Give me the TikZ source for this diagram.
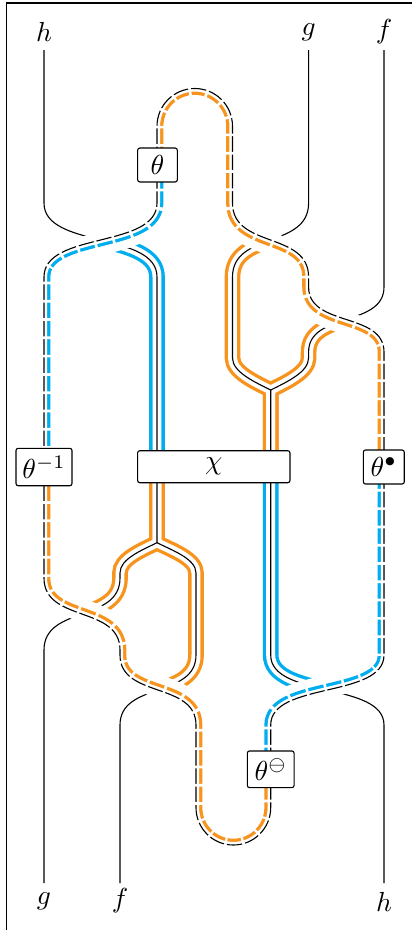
\documentclass[tikz,border=0pt]{standalone}
\definecolor{myorange}{RGB}{247,148,30}
\definecolor{mycyan}{RGB}{0,174,239}
\begin{document}
\def\loopfull{(157,165) -- (157,126.25) .. controls (157,105.4) and (173.9,88.5) .. (194.75,88.5) .. controls (215.6,88.5) and (232.5,105.4) .. (232.5,126.25) -- (232.5,203) .. controls (232.5,248.88) and (308.6,231.12) .. (308.6,277) -- (308.6,287) .. controls (308.6,327.3) and (384,311.7) .. (384,352) -- (384,655) .. controls (384,698.4) and (270.7,681.6) .. (270.7,725) -- (270.7,807.6) .. controls (270.7,828.23) and (253.98,845) .. (233.35,845) .. controls (212.72,845) and (196,828.23) .. (196,807.6) -- (196,725) .. controls (196,681.6) and (120,698.4) .. (120,655) -- (120,650) .. controls (120,605.36) and (44,622.64) .. (44,578) -- (44,277) .. controls (44,231.12) and (157,248.88) .. (157,203) -- cycle}
\def\segA{(157,165) -- (157,126.25) .. controls (157,105.4) and (173.9,88.5) .. (194.75,88.5) .. controls (215.6,88.5) and (232.5,105.4) .. (232.5,126.25) -- (232.5,203) .. controls (232.5,248.88) and (308.6,231.12) .. (308.6,277) -- (308.6,287) .. controls (308.6,327.3) and (384,311.7) .. (384,352) -- (384,467)}
\def\segB{(384,467) -- (384,655) .. controls (384,698.4) and (270.7,681.6) .. (270.7,725) -- (270.7,769.3)}
\def\segC{(270.7,769.3) -- (270.7,807.6) .. controls (270.7,828.23) and (253.98,845) .. (233.35,845) .. controls (212.72,845) and (196,828.23) .. (196,807.6) -- (196,725) .. controls (196,681.6) and (120,698.4) .. (120,655) -- (120,650) .. controls (120,605.36) and (44,622.64) .. (44,578) -- (44,467)}
\def\segD{(44,467) -- (44,277) .. controls (44,231.12) and (157,248.88) .. (157,203) -- (157,165)}
% double strands
\def\dblH{(100.5,240) .. controls (128.75,247.03) and (157,254.06) .. (157,277) -- (157,466.7)}
\def\dblL{(157,466.7) -- (157,542.7) .. controls (140.9,550.7) and (120,559) .. (120,573) -- (120,578) .. controls (120,600.32) and (101,607.16) .. (82,614)}
\def\dblR{(157,466.7) -- (157,542.7) .. controls (173.1,550.7) and (196,559) .. (196,573) -- (196,655) .. controls (196,676.7) and (177,683.35) .. (158,690)}
\def\dblG{(270.55,240) .. controls (251.53,247.03) and (232.5,254.06) .. (232.5,277) -- (232.5,358) .. controls (232.5,372) and (254.6,382) .. (270.7,390) -- (270.7,466.7)}
\def\dblF{(346.3,319.5) .. controls (327.45,325.68) and (308.6,331.85) .. (308.6,352) -- (308.6,358) .. controls (308.6,372) and (286.8,382) .. (270.7,390) -- (270.7,466.7)}
\def\dblS{(270.7,466.7) -- (270.7,655) .. controls (270.7,676.7) and (299.03,683.35) .. (327.35,690)}
\begin{tikzpicture}[x=0.3636pt,y=-0.3636pt,
  thinw/.style={line width=0.4pt,black},
  dcol/.style={line width=5.71pt},
  dwhite/.style={line width=3.27pt,white},
  ringcol/.style={line width=4.62pt},
  ringwhite/.style={line width=2.22pt,white},
  box/.style={draw,fill=white,line width=0.4pt,inner sep=0pt,rounded corners=0.8pt},
  lbl/.style={inner sep=0pt}]
\useasboundingbox (0,0) rectangle (412,930);
% frame
\draw[line width=0.45pt] (6.5,930) -- (6.5,3) -- (412,3);
% labels
\node[lbl] (lht) at (44,32) {$h$};
\node[lbl] (lgt) at (308.6,32) {$g$};
\node[lbl] (lft) at (384,32) {$f$};
\node[lbl] (lgb) at (44,901) {$g$};
\node[lbl] (lfb) at (120,901) {$f$};
\node[lbl] (lhb) at (384,902) {$h$};
% double strands: colour
\draw[dcol,mycyan] \dblH;
\draw[dcol,myorange] \dblL;
\draw[dcol,myorange] \dblR;
\draw[dcol,myorange] \dblG;
\draw[dcol,myorange] \dblF;
\draw[dcol,mycyan] \dblS;
% double strands: white
\draw[dwhite] \dblH;
\draw[dwhite] \dblL;
\draw[dwhite] \dblR;
\draw[dwhite] \dblG;
\draw[dwhite] \dblF;
\draw[dwhite] \dblS;
% thin wires (and black cores)
\draw[thinw] (44,50) -- (44,203) .. controls (44,248.88) and (157,231.12) .. (157,277) -- (157,542.7) .. controls (140.9,550.7) and (120,559) .. (120,573) -- (120,578) .. controls (120,622.64) and (44,605.36) .. (44,650) -- (44,883);
\draw[thinw] (157,542.7) .. controls (173.1,550.7) and (196,559) .. (196,573) -- (196,655) .. controls (196,698.4) and (120,681.6) .. (120,725) -- (120,883);
\draw[thinw] (308.6,50) -- (308.6,203) .. controls (308.6,248.88) and (232.5,231.12) .. (232.5,277) -- (232.5,358) .. controls (232.5,372) and (254.6,382) .. (270.7,390) -- (270.7,655) .. controls (270.7,698.4) and (384,681.6) .. (384,725) -- (384,883);
\draw[thinw] (384,50) -- (384,287) .. controls (384,327.3) and (308.6,311.7) .. (308.6,352) -- (308.6,358) .. controls (308.6,372) and (286.8,382) .. (270.7,390);
% loop: halo outside
\draw[white,line width=5.8pt] \loopfull;
\begin{scope}
\clip \loopfull;
\draw[white,line width=10.9pt] \loopfull;
\draw[ringcol,myorange] \segA;
\draw[ringcol,mycyan] \segB;
\draw[ringcol,myorange] \segC;
\draw[ringcol,mycyan] \segD;
\draw[ringwhite] \loopfull;
\end{scope}
\draw[thinw] \loopfull;
\draw[white,line width=5.1pt,dash pattern=on 0.98pt off 5.67pt] \loopfull;
% boxes
\node[box,minimum width=14.4pt,minimum height=12.36pt] (th) at (157.5,165) {$\theta$};
\node[box,minimum width=20.36pt,minimum height=13.6pt] (thinv) at (44,467) {$\theta^{-1}$};
\node[box,minimum width=55.4pt,minimum height=11.64pt] (chi) at (213.8,466.7) {$\chi$};
\node[box,minimum width=14.9pt,minimum height=12.36pt] (thb) at (383.8,467) {$\theta^{\bullet}$};
\node[box,minimum width=17pt,minimum height=13.34pt] (tho) at (270.7,769.3) {$\theta^{\ominus}$};
\end{tikzpicture}
\end{document}
